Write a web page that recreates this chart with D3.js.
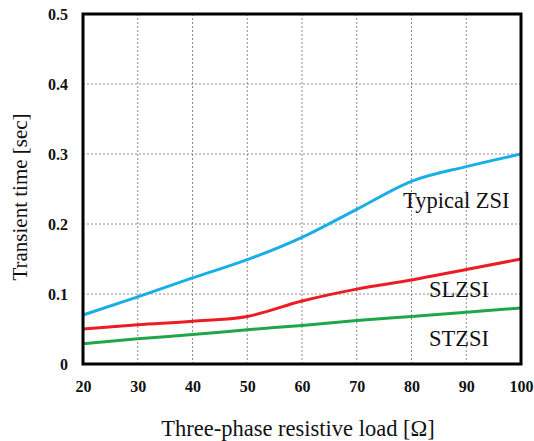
<!DOCTYPE html>
<html>
<head>
<meta charset="utf-8">
<script src="https://cdn.jsdelivr.net/npm/d3@7"></script>
<style>
  html, body { margin: 0; padding: 0; background: #fff; }
  svg { display: block; }
</style>
</head>
<body>
<svg id="chart" width="534" height="441"></svg>
<script>
// Load resistance (Ω) and transient times (s) for each inverter topology
const loads = [20, 30, 40, 50, 60, 70, 80, 90, 100];
const typicalZSI = [0.070, 0.096, 0.123, 0.149, 0.181, 0.221, 0.261, 0.282, 0.300];
const slZSI      = [0.050, 0.056, 0.061, 0.068, 0.090, 0.107, 0.120, 0.135, 0.150];
const stZSI      = [0.029, 0.036, 0.042, 0.049, 0.055, 0.062, 0.068, 0.074, 0.080];
const xTicks = [20, 30, 40, 50, 60, 70, 80, 90, 100];
const yTicks = [0, 0.1, 0.2, 0.3, 0.4, 0.5];
const seriesNames = ["Typical ZSI", "SLZSI", "STZSI"];

const series = [
  { name: seriesNames[0], values: typicalZSI, color: "#1aaee6", lx: 403, ly: 208 },
  { name: seriesNames[1], values: slZSI,      color: "#ec1c24", lx: 429, ly: 297 },
  { name: seriesNames[2], values: stZSI,      color: "#1fa64a", lx: 429, ly: 346 }
];

const svg = d3.select("#chart");
const m = { left: 83, right: 521, top: 14, bottom: 364 };

const x = d3.scaleLinear().domain([20, 100]).range([m.left, m.right]);
const y = d3.scaleLinear().domain([0, 0.5]).range([m.bottom, m.top]);

const serif = "'Liberation Serif', 'Times New Roman', serif";

// Dashed grid
const grid = svg.append("g");
grid.selectAll("line.v").data(xTicks.slice(1, -1)).join("line")
  .attr("x1", d => x(d)).attr("x2", d => x(d))
  .attr("y1", m.top).attr("y2", m.bottom)
  .attr("stroke", "#8a8a8a").attr("stroke-width", 1).attr("stroke-dasharray", "2,2");
grid.selectAll("line.h").data(yTicks.slice(1, -1)).join("line")
  .attr("x1", m.left).attr("x2", m.right)
  .attr("y1", d => y(d)).attr("y2", d => y(d))
  .attr("stroke", "#8a8a8a").attr("stroke-width", 1).attr("stroke-dasharray", "2,2");

// Axes (tick labels only)
const xAxis = svg.append("g")
  .attr("transform", `translate(0,${m.bottom})`)
  .call(d3.axisBottom(x).tickValues(xTicks).tickSize(0).tickPadding(17).tickFormat(d3.format("d")));
const yAxis = svg.append("g")
  .attr("transform", `translate(${m.left},0)`)
  .call(d3.axisLeft(y).tickValues(yTicks).tickSize(0).tickPadding(15)
    .tickFormat(d => d === 0 ? "0" : d3.format(".1f")(d)));
[xAxis, yAxis].forEach(a => {
  a.attr("font-family", serif).attr("font-size", 16);
  a.select(".domain").remove();
  a.selectAll("text")
    .style("font-family", serif).style("font-weight", "bold")
    .style("font-size", "16px").attr("fill", "#111");
});

// Series lines
const line = d3.line()
  .x((d, i) => x(loads[i]))
  .y(d => y(d))
  .curve(d3.curveMonotoneX);

svg.append("g").selectAll("path").data(series).join("path")
  .attr("d", d => line(d.values))
  .attr("fill", "none")
  .attr("stroke", d => d.color)
  .attr("stroke-width", 3)
  .attr("stroke-linejoin", "round");

// Series labels
svg.append("g").selectAll("text").data(series).join("text")
  .attr("x", d => d.lx).attr("y", d => d.ly)
  .style("font-family", serif).style("font-size", "22.5px").attr("fill", "#111")
  .text(d => d.name);

// Plot frame
svg.append("rect")
  .attr("x", m.left).attr("y", m.top)
  .attr("width", m.right - m.left).attr("height", m.bottom - m.top)
  .attr("fill", "none").attr("stroke", "#000").attr("stroke-width", 3);

// Axis titles
svg.append("text")
  .attr("x", 298).attr("y", 436)
  .attr("text-anchor", "middle")
  .style("font-family", serif).style("font-size", "22.5px").attr("fill", "#111")
  .text("Three-phase resistive load [Ω]");
svg.append("text")
  .attr("transform", `translate(27,197) rotate(-90)`)
  .attr("text-anchor", "middle")
  .style("font-family", serif).style("font-size", "21px").attr("fill", "#111")
  .text("Transient time [sec]");
</script>
</body>
</html>
